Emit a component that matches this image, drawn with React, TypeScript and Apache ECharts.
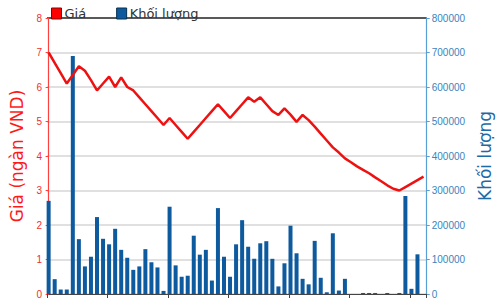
import React, { useEffect, useRef } from "react";
import * as echarts from "echarts";

// Price (thousand VND), one per session
const prices: number[] = [
  7.0, 6.7, 6.4, 6.1, 6.35, 6.6, 6.47, 6.2, 5.9, 6.1,
  6.3, 6.0, 6.28, 6.0, 5.9, 5.7, 5.5, 5.3, 5.1, 4.9,
  5.1, 4.9, 4.7, 4.5, 4.7, 4.9, 5.1, 5.3, 5.5, 5.3,
  5.1, 5.3, 5.5, 5.7, 5.57, 5.7, 5.5, 5.3, 5.19, 5.38,
  5.2, 4.99, 5.19, 5.04, 4.85, 4.65, 4.45, 4.25, 4.1, 3.93,
  3.82, 3.7, 3.6, 3.5, 3.38, 3.27, 3.15, 3.05, 3.0, 3.1,
  3.2, 3.3, 3.4,
];

// Volume (shares), one per session
const volumes: number[] = [
  270000, 43000, 13000, 13000, 690000, 159000, 80000, 108000, 223000, 160000,
  144000, 189000, 128000, 105000, 70000, 80000, 130000, 92000, 77000, 9000,
  253000, 83000, 50000, 53000, 169000, 114000, 128000, 39000, 249000, 108000,
  50000, 144000, 214000, 137000, 102000, 147000, 153000, 102000, 22000, 89000,
  198000, 118000, 44000, 28000, 154000, 47000, 5000, 176000, 10000, 44000,
  0, 0, 3000, 3000, 3000, 0, 3000, 0, 3000, 284000,
  15000, 115000, 0,
];

const legendNames: string[] = ["Giá", "Khối lượng"];
const leftAxisName = "Giá (ngàn VND)";
const rightAxisName = "Khối lượng";

export default function App() {
  const ref = useRef<HTMLDivElement>(null);

  useEffect(() => {
    if (!ref.current) return;
    const chart = echarts.init(ref.current, undefined, { renderer: "svg" });
    const font = "DejaVu Sans";
    const gridColors = [
      "#d6d6d6", "#d6d6d6", "#d6d6d6", "#d6d6d6", "#d6d6d6",
      "#d6d6d6", "#d6d6d6", "#d6d6d6", "#222222",
    ];
    chart.setOption({
      animation: false,
      backgroundColor: "#ffffff",
      textStyle: { fontFamily: font },
      legend: {
        left: 46,
        top: 2,
        itemWidth: 10,
        itemHeight: 11,
        itemGap: 30,
        data: [
          { name: legendNames[0], icon: "rect", itemStyle: { color: "#ff0000", borderColor: "#8a0000", borderWidth: 1 } },
          { name: legendNames[1], icon: "rect", itemStyle: { color: "#0d5a9e", borderColor: "#06304f", borderWidth: 1 } },
        ],
        textStyle: { fontSize: 13, color: "#333333", fontFamily: font, padding: [0, 0, 0, -2] },
      },
      grid: { left: 43, right: 68, top: 18, bottom: 6, containLabel: false },
      xAxis: {
        type: "value",
        min: -0.27,
        max: 62.53,
        interval: 10,
        axisLine: { show: true, onZero: false, lineStyle: { color: "#444444", width: 1 } },
        axisTick: { show: true, length: 4, inside: false, lineStyle: { color: "#444444" } },
        axisLabel: { show: false },
        splitLine: { show: false },
      },
      yAxis: [
        {
          type: "value",
          min: 0,
          max: 8,
          interval: 1,
          position: "left",
          name: leftAxisName,
          nameLocation: "middle",
          nameGap: 22,
          nameTextStyle: { color: "#ff1a1a", fontSize: 17, fontFamily: font },
          axisLine: { show: true, lineStyle: { color: "#ff4040", width: 1.2 } },
          axisTick: { show: true, length: 3, lineStyle: { color: "#ff4040" } },
          axisLabel: { color: "#f03030", fontSize: 10, margin: 5, fontFamily: "Liberation Sans" },
          splitLine: { show: true, lineStyle: { color: gridColors, width: 1.5 } },
        },
        {
          type: "value",
          min: 0,
          max: 800000,
          interval: 100000,
          position: "right",
          name: rightAxisName,
          nameLocation: "middle",
          nameGap: 44,
          nameRotate: 90,
          nameTextStyle: { color: "#1d6aa5", fontSize: 17, fontFamily: font },
          axisLine: { show: true, lineStyle: { color: "#5a9fd4", width: 1.2 } },
          axisTick: { show: true, length: 3, lineStyle: { color: "#5a9fd4" } },
          axisLabel: {
            color: "#3a84bd",
            fontSize: 10,
            margin: 5,
            fontFamily: "Liberation Sans",
            formatter: (v: number) => String(v),
          },
          splitLine: { show: false },
        },
      ],
      series: [
        {
          name: legendNames[1],
          type: "bar",
          yAxisIndex: 1,
          barWidth: 4,
          itemStyle: { color: "#0d5a9e" },
          data: volumes.map((v, i) => [i, v]),
          z: 2,
        },
        {
          name: legendNames[0],
          type: "line",
          yAxisIndex: 0,
          showSymbol: false,
          symbol: "none",
          lineStyle: { color: "#ee1111", width: 2.5 },
          itemStyle: { color: "#ff0000" },
          data: prices.map((v, i) => [i, v]),
          z: 3,
        },
      ],
    });
    return () => chart.dispose();
  }, []);

  return <div ref={ref} style={{ width: 501, height: 300, position: "absolute", left: 0, top: 0 }} />;
}
